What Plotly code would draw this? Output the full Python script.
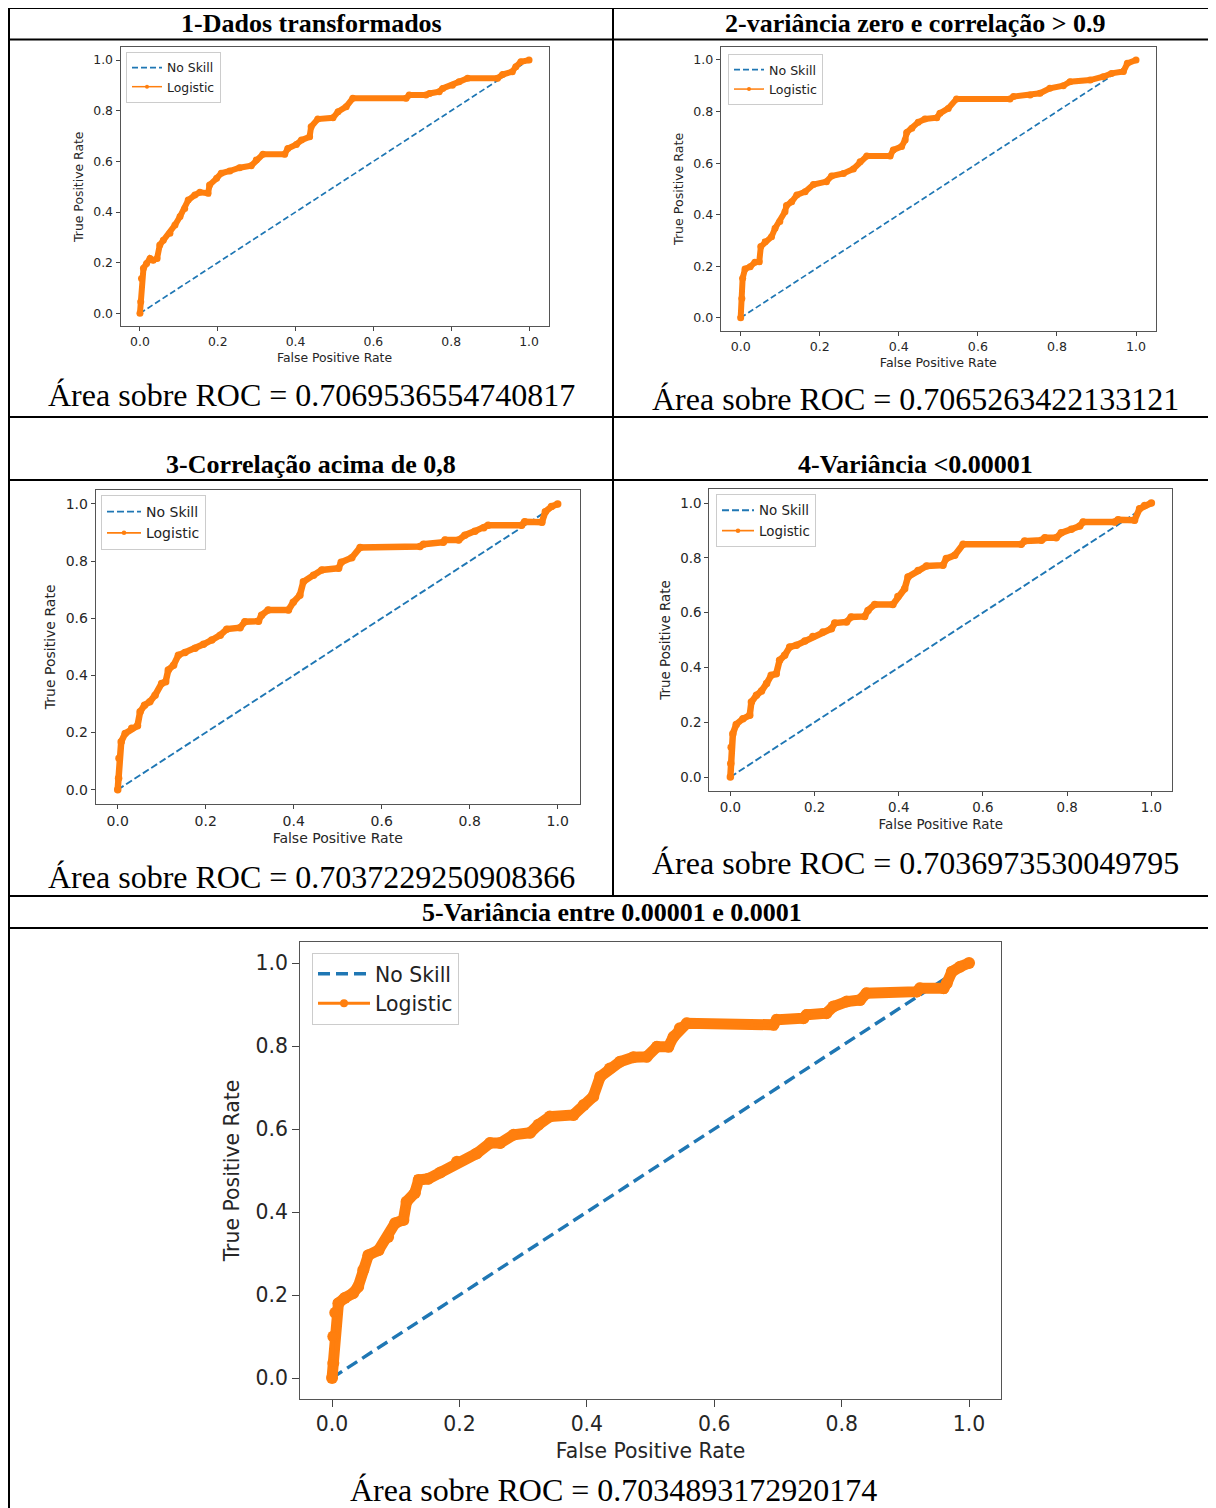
import plotly.graph_objects as go

# page body has an 8px margin, so the figure is 8px smaller and shifted
OFF = 8
W, H = 1208, 1500

# ---------------- data ----------------
no_skill_fpr = [0.0, 1.0]
no_skill_tpr = [0.0, 1.0]

fpr_1 = [0.0, 0.002, 0.004, 0.009, 0.017, 0.026, 0.034, 0.044, 0.051, 0.06, 0.077, 0.09, 0.103, 0.115,
         0.124, 0.141, 0.154, 0.175, 0.179, 0.197, 0.209, 0.231, 0.256, 0.286, 0.299, 0.316, 0.372, 0.38,
         0.402, 0.415, 0.436, 0.44, 0.457, 0.496, 0.509, 0.53, 0.547, 0.684, 0.692, 0.735, 0.744, 0.769,
         0.778, 0.803, 0.82, 0.842, 0.919, 0.932, 0.957, 0.966, 0.979, 1.0]
tpr_1 = [0.0, 0.046, 0.138, 0.178, 0.197, 0.217, 0.21, 0.217, 0.27, 0.289, 0.316, 0.349, 0.382, 0.414,
         0.447, 0.467, 0.478, 0.474, 0.507, 0.533, 0.553, 0.562, 0.575, 0.583, 0.605, 0.628, 0.628, 0.651,
         0.667, 0.684, 0.697, 0.737, 0.767, 0.772, 0.796, 0.816, 0.849, 0.849, 0.862, 0.862, 0.868, 0.875,
         0.888, 0.901, 0.914, 0.928, 0.928, 0.943, 0.954, 0.974, 0.993, 1.0]

fpr_2 = [0.0, 0.003, 0.005, 0.011, 0.024, 0.036, 0.047, 0.051, 0.062, 0.078, 0.087, 0.099, 0.112, 0.116,
         0.129, 0.142, 0.163, 0.184, 0.217, 0.23, 0.26, 0.285, 0.302, 0.319, 0.378, 0.386, 0.407, 0.416,
         0.42, 0.433, 0.449, 0.466, 0.496, 0.504, 0.525, 0.546, 0.681, 0.69, 0.732, 0.757, 0.782, 0.816,
         0.833, 0.884, 0.917, 0.938, 0.968, 0.978, 1.0]
tpr_2 = [0.0, 0.075, 0.153, 0.189, 0.198, 0.215, 0.217, 0.276, 0.295, 0.314, 0.347, 0.373, 0.411, 0.435,
         0.45, 0.476, 0.489, 0.517, 0.528, 0.55, 0.56, 0.577, 0.605, 0.627, 0.627, 0.651, 0.664, 0.69,
         0.719, 0.735, 0.758, 0.771, 0.776, 0.793, 0.812, 0.849, 0.849, 0.858, 0.864, 0.871, 0.89, 0.9,
         0.916, 0.922, 0.935, 0.948, 0.955, 0.987, 1.0]

fpr_3 = [0.0, 0.002, 0.003, 0.008, 0.017, 0.032, 0.045, 0.051, 0.061, 0.073, 0.085, 0.1, 0.109, 0.115,
         0.127, 0.138, 0.153, 0.176, 0.195, 0.214, 0.233, 0.248, 0.278, 0.289, 0.32, 0.327, 0.342, 0.388,
         0.399, 0.414, 0.422, 0.445, 0.464, 0.502, 0.508, 0.532, 0.551, 0.687, 0.695, 0.74, 0.744, 0.775,
         0.789, 0.812, 0.832, 0.842, 0.918, 0.925, 0.964, 0.972, 0.986, 1.0]
tpr_3 = [0.0, 0.04, 0.11, 0.168, 0.197, 0.215, 0.224, 0.273, 0.296, 0.308, 0.331, 0.372, 0.378, 0.419,
         0.436, 0.471, 0.48, 0.495, 0.509, 0.524, 0.541, 0.562, 0.567, 0.588, 0.59, 0.611, 0.629, 0.629,
         0.656, 0.681, 0.728, 0.751, 0.769, 0.775, 0.796, 0.812, 0.848, 0.851, 0.859, 0.866, 0.874, 0.874,
         0.891, 0.905, 0.917, 0.926, 0.926, 0.938, 0.936, 0.973, 0.991, 1.0]

fpr_4 = [0.0, 0.001, 0.002, 0.006, 0.014, 0.03, 0.046, 0.05, 0.062, 0.074, 0.086, 0.097, 0.109, 0.117,
         0.129, 0.141, 0.157, 0.177, 0.196, 0.22, 0.24, 0.248, 0.276, 0.287, 0.319, 0.327, 0.343, 0.386,
         0.398, 0.414, 0.422, 0.446, 0.466, 0.505, 0.513, 0.533, 0.553, 0.691, 0.699, 0.739, 0.747, 0.774,
         0.786, 0.81, 0.83, 0.838, 0.913, 0.921, 0.96, 0.972, 0.984, 1.0]
tpr_4 = [0.0, 0.049, 0.109, 0.158, 0.192, 0.213, 0.225, 0.274, 0.298, 0.314, 0.341, 0.371, 0.377, 0.426,
         0.444, 0.474, 0.481, 0.496, 0.513, 0.529, 0.541, 0.562, 0.566, 0.584, 0.586, 0.608, 0.63, 0.63,
         0.659, 0.687, 0.73, 0.754, 0.77, 0.773, 0.797, 0.809, 0.849, 0.849, 0.861, 0.864, 0.873, 0.873,
         0.891, 0.904, 0.916, 0.931, 0.931, 0.939, 0.937, 0.979, 0.991, 1.0]

fpr_5 = [0.0, 0.002, 0.002, 0.005, 0.01, 0.02, 0.033, 0.041, 0.049, 0.057, 0.073, 0.088, 0.099, 0.112,
         0.117, 0.13, 0.136, 0.151, 0.17, 0.196, 0.227, 0.248, 0.264, 0.285, 0.311, 0.324, 0.342, 0.379,
         0.395, 0.41, 0.421, 0.436, 0.452, 0.473, 0.494, 0.51, 0.528, 0.536, 0.546, 0.557, 0.693, 0.698,
         0.74, 0.745, 0.776, 0.787, 0.808, 0.829, 0.839, 0.918, 0.923, 0.96, 0.965, 0.973, 0.986, 1.0]
tpr_5 = [0.0, 0.036, 0.10, 0.157, 0.18, 0.193, 0.204, 0.22, 0.26, 0.296, 0.308, 0.34, 0.373, 0.381,
         0.425, 0.446, 0.477, 0.48, 0.495, 0.521, 0.541, 0.566, 0.566, 0.586, 0.591, 0.61, 0.63, 0.634,
         0.658, 0.678, 0.726, 0.746, 0.762, 0.773, 0.774, 0.798, 0.798, 0.822, 0.843, 0.855, 0.851, 0.863,
         0.867, 0.875, 0.879, 0.895, 0.907, 0.911, 0.927, 0.931, 0.939, 0.939, 0.951, 0.979, 0.991, 1.0]

tick_values = [0.0, 0.2, 0.4, 0.6, 0.8, 1.0]
tick_labels = ["0.0", "0.2", "0.4", "0.6", "0.8", "1.0"]

panel_titles = ["1-Dados transformados",
                "2-variância zero e correlação > 0.9",
                "3-Correlação acima de 0,8",
                "4-Variância <0.00001",
                "5-Variância entre 0.00001 e 0.0001"]
auc_values = ["0.7069536554740817", "0.7065263422133121", "0.7037229250908366",
              "0.7036973530049795", "0.7034893172920174"]
series_names = ["No Skill", "Logistic"]

fprs = [fpr_1, fpr_2, fpr_3, fpr_4, fpr_5]
tprs = [tpr_1, tpr_2, tpr_3, tpr_4, tpr_5]

# ---------------- geometry (screen pixels) ----------------
def fx(px):
    return (px - OFF) / W

def fy(py):
    return 1 - (py - OFF) / H

panels = [
    dict(x0=120.5, x1=548.5, y0=47.4, y1=326.0, font=12.4, band=6.0, thin=1.5, dot=4, ns=1.7,
         dash="6px,3px", lx=126, ly=52, tl=4, iw=30),
    dict(x0=720.9, x1=1155.8, y0=47.1, y1=330.6, font=12.6, band=6.0, thin=1.5, dot=4, ns=1.7,
         dash="6px,3px", lx=728, ly=54, tl=4, iw=30),
    dict(x0=95.7, x1=579.7, y0=489.7, y1=804.0, font=14.0, band=6.5, thin=1.7, dot=4.5, ns=1.9,
         dash="7px,3px", lx=101, ly=495, tl=4, iw=34),
    dict(x0=709.3, x1=1172.4, y0=489.3, y1=790.7, font=13.4, band=6.5, thin=1.7, dot=4.5, ns=1.9,
         dash="7px,3px", lx=716, ly=494, tl=4, iw=32),
    dict(x0=300.2, x1=1000.9, y0=942.25, y1=1398.75, font=20.4, band=11.0, thin=3.0, dot=8, ns=3.4,
         dash="12px,6px", lx=312, ly=953, tl=7, iw=52),
]

fig = go.Figure()
layout = dict(
    width=W, height=H, autosize=False,
    margin=dict(l=0, r=0, t=0, b=0),
    paper_bgcolor="white", plot_bgcolor="white",
    font=dict(family="DejaVu Sans", color="#222222"),
)

for i, p in enumerate(panels):
    s = "" if i == 0 else str(i + 1)
    leg = "legend" if i == 0 else f"legend{i + 1}"
    fig.add_trace(go.Scatter(
        x=no_skill_fpr, y=no_skill_tpr, mode="lines", name=series_names[0],
        line=dict(color="#1f77b4", width=p["ns"], dash=p["dash"]),
        xaxis=f"x{s}", yaxis=f"y{s}", legend=leg, showlegend=True, hoverinfo="skip"))
    # thick band of dense dots
    fig.add_trace(go.Scatter(
        x=fprs[i], y=tprs[i], mode="lines+markers", name=series_names[1],
        line=dict(color="#ff7f0e", width=p["band"]),
        marker=dict(color="#ff7f0e", size=p["band"] + 1),
        xaxis=f"x{s}", yaxis=f"y{s}", legend=leg, legendgroup=f"log{i}",
        showlegend=False, hoverinfo="skip"))
    # the plotted line with dot markers (legend entry)
    fig.add_trace(go.Scatter(
        x=fprs[i], y=tprs[i], mode="lines+markers", name=series_names[1],
        line=dict(color="#ff7f0e", width=p["thin"]),
        marker=dict(color="#ff7f0e", size=p["dot"]),
        xaxis=f"x{s}", yaxis=f"y{s}", legend=leg, legendgroup=f"log{i}",
        showlegend=True, hoverinfo="skip"))

    axis_common = dict(
        range=[-0.05, 1.05], tickmode="array", tickvals=tick_values, ticktext=tick_labels,
        showgrid=False, zeroline=False, showline=True, mirror=True,
        linecolor="#555555", linewidth=1.2 if i == 4 else 1,
        ticks="outside", ticklen=p["tl"], tickwidth=1.2 if i == 4 else 1, tickcolor="#444444",
        tickfont=dict(family="DejaVu Sans", size=p["font"], color="#262626"),
        fixedrange=True,
    )
    layout[f"xaxis{s}"] = dict(
        axis_common, domain=[fx(p["x0"]), fx(p["x1"])], anchor=f"y{s}",
        title=dict(text="False Positive Rate", font=dict(family="DejaVu Sans", size=p["font"], color="#262626"),
                   standoff=5 if i < 4 else 8))
    layout[f"yaxis{s}"] = dict(
        axis_common, domain=[fy(p["y1"]), fy(p["y0"])], anchor=f"x{s}",
        title=dict(text="True Positive Rate", font=dict(family="DejaVu Sans", size=p["font"], color="#262626"),
                   standoff=6 if i < 4 else 10))
    layout[leg] = dict(
        x=fx(p["lx"]), y=fy(p["ly"]), xanchor="left", yanchor="top",
        bgcolor="rgba(255,255,255,0.85)", bordercolor="#cccccc", borderwidth=1,
        font=dict(family="DejaVu Sans", size=p["font"], color="#222222"),
        itemwidth=p["iw"], tracegroupgap=0, traceorder="normal",
    )

# ---------------- table lines ----------------
shapes = []
def hline(y, x0, x1):
    shapes.append(dict(type="line", xref="paper", yref="paper", x0=fx(x0), x1=fx(x1), y0=fy(y), y1=fy(y),
                       line=dict(color="black", width=2)))
def vline(x, y0, y1):
    shapes.append(dict(type="line", xref="paper", yref="paper", x0=fx(x), x1=fx(x), y0=fy(y0), y1=fy(y1),
                       line=dict(color="black", width=2)))

for yy in [8, 39.5, 417, 480, 896, 928]:
    hline(yy, 8, 1216)
vline(9, 8, 1508)
vline(613, 8, 896)
vline(1215, 8, 1508)
layout["shapes"] = shapes

# ---------------- table text ----------------
annotations = []
title_pos = [(311, 23), (915, 23), (311, 465), (915, 465), (612, 912)]
auc_pos = [(311, 395), (915, 399), (311, 877), (915, 863), (613, 1490)]
for i in range(5):
    tx, ty = title_pos[i]
    annotations.append(dict(
        text=f"<b>{panel_titles[i]}</b>", x=fx(tx), y=fy(ty), xref="paper", yref="paper",
        xanchor="center", yanchor="middle", showarrow=False,
        font=dict(family="Liberation Serif", size=26, color="black")))
    ax, ay = auc_pos[i]
    annotations.append(dict(
        text=f"Área sobre ROC = {auc_values[i]}", x=fx(ax), y=fy(ay), xref="paper", yref="paper",
        xanchor="center", yanchor="middle", showarrow=False,
        font=dict(family="Liberation Serif", size=32, color="black")))
layout["annotations"] = annotations

fig.update_layout(layout)
fig.write_html("out.html")
